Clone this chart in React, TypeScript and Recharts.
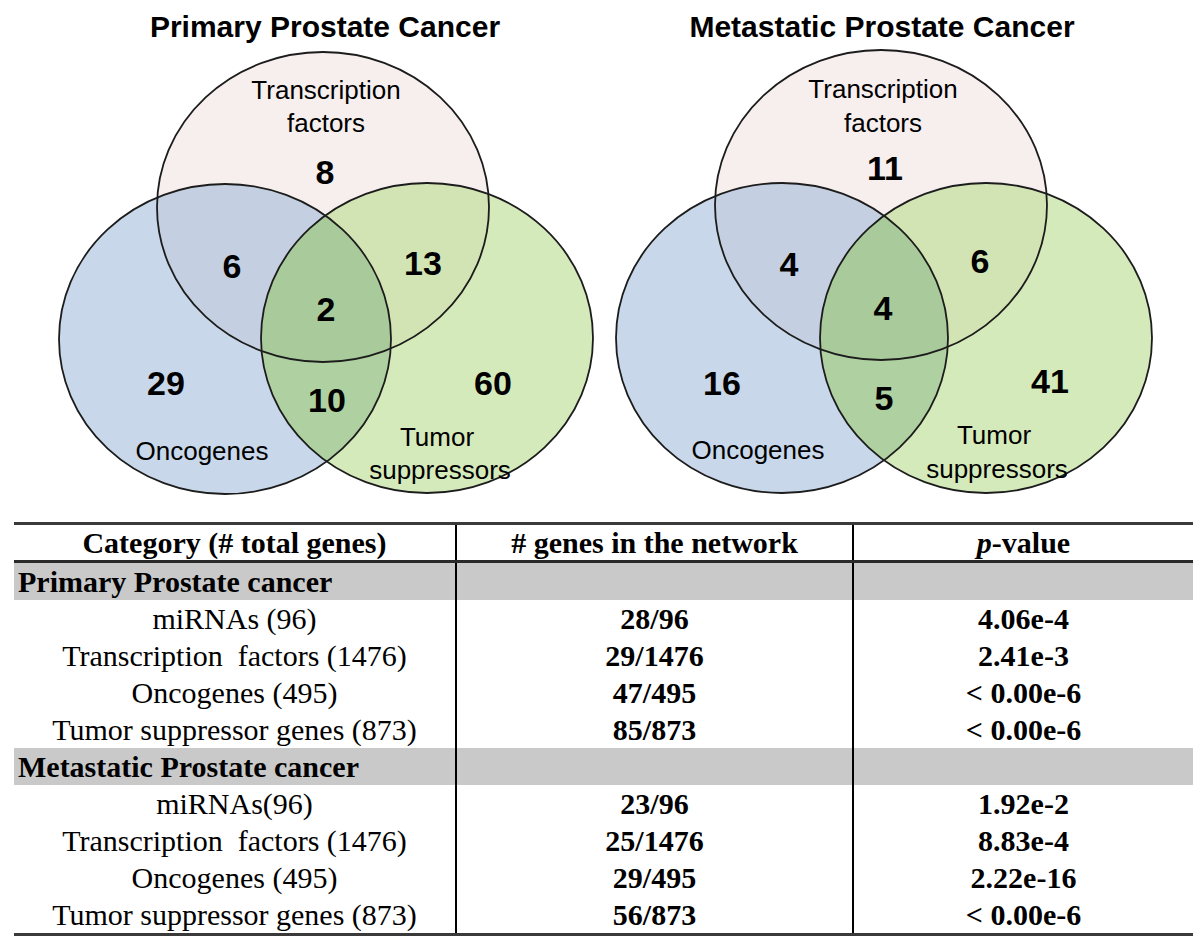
import React from 'react';
import { ScatterChart, Scatter, XAxis, YAxis } from 'recharts';

// ---------- data ----------
const vennTitles = ['Primary Prostate Cancer', 'Metastatic Prostate Cancer'];
const setNames = [['Transcription', 'factors'], ['Oncogenes'], ['Tumor', 'suppressors']];
// region order: TF only, TF∩Onc, TF∩TS, all three, Onc only, Onc∩TS, TS only
const primaryCounts = [8, 6, 13, 2, 29, 10, 60];
const metastaticCounts = [11, 4, 6, 4, 16, 5, 41];

const tableHeaders = ['Category (# total genes)', '# genes in the network', 'p-value'];
const groupNames = ['Primary Prostate cancer', 'Metastatic Prostate cancer'];
const primaryCategories = ['miRNAs (96)', 'Transcription\u00a0 factors (1476)', 'Oncogenes (495)', 'Tumor suppressor genes (873)'];
const metastaticCategories = ['miRNAs(96)', 'Transcription\u00a0 factors (1476)', 'Oncogenes (495)', 'Tumor suppressor genes (873)'];
const primaryInNetwork = ['28/96', '29/1476', '47/495', '85/873'];
const primaryPValues = ['4.06e-4', '2.41e-3', '< 0.00e-6', '< 0.00e-6'];
const metastaticInNetwork = ['23/96', '25/1476', '29/495', '56/873'];
const metastaticPValues = ['1.92e-2', '8.83e-4', '2.22e-16', '< 0.00e-6'];

// ---------- layout (chart units) ----------
const CHART_W = 1200;
const CHART_H = 515;
const X_DOMAIN: [number, number] = [0, 1200];
const Y_DOMAIN: [number, number] = [0, 515];
const PX_X = CHART_W / (X_DOMAIN[1] - X_DOMAIN[0]);
const PX_Y = CHART_H / (Y_DOMAIN[1] - Y_DOMAIN[0]);
const RX = 166;
const RY = 155;

// set fills: TF, Onc, TS
const circleFills = ['#f7efee', '#c8d8ea', '#d5eabb'];
// overlap fills
const FILL_TF_ONC = '#c4d0e1';
const FILL_TF_TS = '#d3e4b4';
const FILL_ONC_TS = '#afd0a1';
const FILL_ALL = '#a9cb9b';

const panelCircleCenters = [
  [[323, 207], [225, 339], [427, 338]],
  [[881, 205], [782, 338], [986, 338]],
];
const panelTitlePos = [[325, 26], [882, 26]];
const panelCountPos = [
  [[325, 172], [232, 266], [423, 263], [326, 309], [166, 383], [327, 400], [493, 383]],
  [[885, 168], [789, 264], [980, 261], [883, 308], [722, 383], [884, 398], [1050, 381]],
];
const panelLabelPos = [
  [[[326, 90], [326, 123]], [[202, 451]], [[437, 437], [440, 470]]],
  [[[883, 89], [883, 123]], [[758, 450]], [[994, 435], [997, 469]]],
];

const allCounts = [primaryCounts, metastaticCounts];

const clipId = (p: number, s: number) => `venn-clip-${p}-${s}`;

const circleData = panelCircleCenters.flatMap((centers, p) =>
  centers.map(([x, y], i) => ({ x, y, fill: circleFills[i], id: clipId(p, i) }))
);
// overlaps: draw ellipse `s` clipped by `clip` (and optionally `clip2` on an outer group)
const overlapData = panelCircleCenters.flatMap((centers, p) => [
  { x: centers[1][0], y: centers[1][1], clip: clipId(p, 0), fill: FILL_TF_ONC },
  { x: centers[2][0], y: centers[2][1], clip: clipId(p, 0), fill: FILL_TF_TS },
  { x: centers[2][0], y: centers[2][1], clip: clipId(p, 1), fill: FILL_ONC_TS },
  { x: centers[2][0], y: centers[2][1], clip: clipId(p, 1), clip2: clipId(p, 0), fill: FILL_ALL },
]);
const outlineData = panelCircleCenters.flatMap((centers) => centers.map(([x, y]) => ({ x, y })));

const titleData = vennTitles.map((t, i) => ({ x: panelTitlePos[i][0], y: panelTitlePos[i][1], text: t }));
const countData = allCounts.flatMap((counts, p) =>
  counts.map((c, i) => ({ x: panelCountPos[p][i][0], y: panelCountPos[p][i][1], text: String(c) }))
);
const labelData = panelLabelPos.flatMap((sets) =>
  sets.flatMap((lines, s) => lines.map(([x, y], l) => ({ x, y, text: setNames[s][l] })))
);

const SANS = '"Liberation Sans", Arial, Helvetica, sans-serif';
const SERIF = '"Liberation Serif", "Times New Roman", Times, serif';

const FillShape = (props: any) => {
  const { cx, cy, payload } = props;
  return (
    <g>
      <defs>
        <clipPath id={payload.id}>
          <ellipse cx={cx} cy={cy} rx={RX * PX_X} ry={RY * PX_Y} />
        </clipPath>
      </defs>
      <ellipse cx={cx} cy={cy} rx={RX * PX_X} ry={RY * PX_Y} fill={payload.fill} stroke="none" />
    </g>
  );
};

const OverlapShape = (props: any) => {
  const { cx, cy, payload } = props;
  const inner = (
    <ellipse
      cx={cx}
      cy={cy}
      rx={RX * PX_X}
      ry={RY * PX_Y}
      fill={payload.fill}
      stroke="none"
      clipPath={`url(#${payload.clip})`}
    />
  );
  return payload.clip2 ? <g clipPath={`url(#${payload.clip2})`}>{inner}</g> : <g>{inner}</g>;
};

const OutlineShape = (props: any) => {
  const { cx, cy } = props;
  return <ellipse cx={cx} cy={cy} rx={RX * PX_X} ry={RY * PX_Y} fill="none" stroke="#1c1c1c" strokeWidth={1.8} />;
};

const makeText = (size: number, weight: string) => (props: any) => {
  const { cx, cy, payload } = props;
  return (
    <text
      x={cx}
      y={cy}
      textAnchor="middle"
      dominantBaseline="central"
      fontFamily={SANS}
      fontSize={size}
      fontWeight={weight}
      fill="#000"
    >
      {payload.text}
    </text>
  );
};
const TitleShape = makeText(30, 'bold');
const CountShape = makeText(34, 'bold');
const LabelShape = makeText(26, 'normal');

// ---------- table ----------
const COL_W = [441, 397, 341];
const ROW_H = 37;

const Cell = ({ i, children, bold, align, italicP }: any) => (
  <div
    style={{
      width: COL_W[i],
      boxSizing: 'border-box',
      borderLeft: i > 0 ? '2px solid #000' : 'none',
      textAlign: align || 'center',
      fontWeight: bold ? 'bold' : 'normal',
      paddingLeft: align === 'left' ? 4 : 0,
      whiteSpace: 'pre',
      overflow: 'visible',
    }}
  >
    {italicP ? (
      <span>
        <i>p</i>-value
      </span>
    ) : (
      children
    )}
  </div>
);

const Row = ({ children, bg, h }: any) => (
  <div style={{ display: 'flex', height: h || ROW_H, lineHeight: `${h || ROW_H}px`, background: bg || 'transparent' }}>
    {children}
  </div>
);

const groups = [
  { name: groupNames[0], cats: primaryCategories, net: primaryInNetwork, p: primaryPValues },
  { name: groupNames[1], cats: metastaticCategories, net: metastaticInNetwork, p: metastaticPValues },
];

const Table = () => (
  <div
    style={{
      position: 'absolute',
      left: 14,
      top: 522,
      width: 1179,
      fontFamily: SERIF,
      fontSize: 30,
      color: '#000',
    }}
  >
    <div style={{ height: 3, background: '#3a3a3a' }} />
    <Row h={35}>
      <Cell i={0} bold>{tableHeaders[0]}</Cell>
      <Cell i={1} bold>{tableHeaders[1]}</Cell>
      <Cell i={2} bold italicP>{tableHeaders[2]}</Cell>
    </Row>
    <div style={{ height: 3, background: '#2a2a2a' }} />
    {groups.map((g, gi) => (
      <React.Fragment key={gi}>
        <Row bg="#c9c9c9">
          <Cell i={0} bold align="left">{g.name}</Cell>
          <Cell i={1}>{''}</Cell>
          <Cell i={2}>{''}</Cell>
        </Row>
        {g.cats.map((c, ri) => (
          <Row key={ri}>
            <Cell i={0}>{c}</Cell>
            <Cell i={1} bold>{g.net[ri]}</Cell>
            <Cell i={2} bold>{g.p[ri]}</Cell>
          </Row>
        ))}
      </React.Fragment>
    ))}
    <div style={{ height: 3, background: '#3a3a3a' }} />
  </div>
);

export default function App() {
  return (
    <div style={{ position: 'absolute', left: 0, top: 0, width: 1200, height: 944, background: '#fff', overflow: 'hidden' }}>
      <div style={{ position: 'absolute', left: 0, top: 0 }}>
        <ScatterChart width={CHART_W} height={CHART_H} margin={{ top: 0, right: 0, bottom: 0, left: 0 }}>
          <XAxis type="number" dataKey="x" domain={X_DOMAIN} hide allowDataOverflow />
          <YAxis type="number" dataKey="y" domain={Y_DOMAIN} reversed hide allowDataOverflow />
          <Scatter data={circleData} shape={FillShape} isAnimationActive={false} />
          <Scatter data={overlapData} shape={OverlapShape} isAnimationActive={false} />
          <Scatter data={outlineData} shape={OutlineShape} isAnimationActive={false} />
          <Scatter data={titleData} shape={TitleShape} isAnimationActive={false} />
          <Scatter data={labelData} shape={LabelShape} isAnimationActive={false} />
          <Scatter data={countData} shape={CountShape} isAnimationActive={false} />
        </ScatterChart>
      </div>
      <Table />
    </div>
  );
}
